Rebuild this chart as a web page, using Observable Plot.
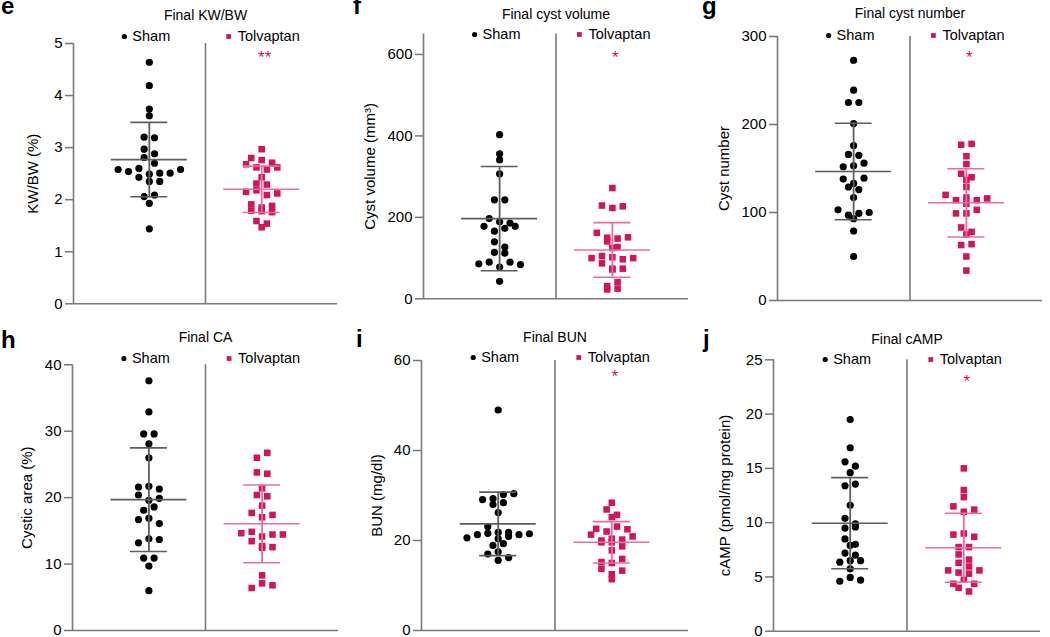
<!DOCTYPE html>
<html><head><meta charset="utf-8">
<script src="https://cdn.jsdelivr.net/npm/d3@7"></script>
<script src="https://cdn.jsdelivr.net/npm/@observablehq/plot@0.6"></script>
<style>
body{margin:0;background:#fff;}
#root{position:relative;width:1050px;height:637px;overflow:hidden;font-family:"Liberation Sans",Arial,Helvetica,sans-serif;background:#fff;}
.panel{position:absolute;}
.panel svg{overflow:visible;}
.letter{position:absolute;font-weight:bold;font-size:24px;line-height:12px;color:#000;}
.panel svg [aria-label^="y-axis"] line, .panel svg [aria-label^="y-axis"] path{stroke:#777;stroke-width:1.5;}
</style></head><body><div id="root"></div>
<script>
// ---------- data ----------
const groups = ["Sham", "Tolvaptan"];
const panelLetters = ["e", "f", "g", "h", "i", "j"];
const panelTitles = ["Final KW/BW", "Final cyst volume", "Final cyst number", "Final CA", "Final BUN", "Final cAMP"];
const yLabels = ["KW/BW (%)", "Cyst volume (mm³)", "Cyst number", "Cystic area (%)", "BUN (mg/dl)", "cAMP (pmol/mg protein)"];
const yMax = [5, 650, 300, 40, 60, 25];
const yTicks = [[0,1,2,3,4,5],[0,200,400,600],[0,100,200,300],[0,10,20,30,40],[0,20,40,60],[0,5,10,15,20,25]];
const significance = ["**", "*", "*", "", "*", "*"];

const kwbwSham = [4.64,4.19,3.74,3.61,3.20,3.19,2.97,2.88,2.81,2.70,2.58,2.54,2.43,2.60,2.49,2.51,2.51,2.58,2.35,2.35,2.06,2.09,1.93,1.44];
const kwbwTolvaptan = [2.97,2.80,2.76,2.71,2.68,2.62,2.58,2.62,2.43,2.31,2.29,2.15,2.18,2.09,2.12,1.91,1.79,1.85,1.88,1.78,1.76,1.59,1.54,1.47];
const kwbwMean = [2.77, 2.20];
const kwbwSD = [0.715, 0.445];

const volumeSham = [403,356,341,307,243,243,197,178,166,189,173,186,178,140,127,114,112,86,90,78,90,84,43];
const volumeTolvaptan = [272,229,223,227,162,141,150,148,151,125,127,100,105,102,87,74,97,100,74,72,23,31,41,25];
const volumeMean = [197, 120];
const volumeSD = [128, 67];

const numberSham = [273,239,225,225,201,176,166,165,152,153,156,138,133,139,129,126,117,103,97,99,100,93,79,50];
const numberTolvaptan = [177,178,164,155,144,140,137,129,120,114,117,110,114,116,99,99,103,83,78,75,63,64,50,34];
const numberMean = [146.6, 111];
const numberSD = [54.8, 38.8];

const caSham = [37.6,32.9,29.6,29.6,28.1,26.0,21.6,21.7,21.3,20.4,19.6,19.9,18.1,18.6,16.7,16.9,16.1,13.2,13.8,13.7,10.9,10.9,9.7,6.0];
const caTolvaptan = [26.0,26.75,23.8,23.6,21.4,20.4,20.2,18.8,17.7,17.05,17.4,14.65,14.85,14.15,14.45,14.45,13.45,12.45,12.7,12.55,8.3,6.4,7.1,6.8];
const caMean = [19.7, 16.06];
const caSD = [7.8, 5.85];

const bunSham = [49.0,29.1,29.3,28.0,30.2,28.4,30.4,26.2,23.1,21.8,20.6,21.3,21.6,20.4,20.9,21.3,21.8,21.5,18.9,19.3,17.0,15.6,17.5,16.2];
const bunTolvaptan = [28.4,26.9,25.2,25.7,22.6,21.3,20.0,22.0,20.4,19.6,23.1,20.2,22.5,20.9,19.6,17.8,18.7,15.2,13.7,15.0,12.5,11.4,15.9,13.3];
const bunMean = [23.7, 19.6];
const bunSD = [7.05, 4.6];

const campSham = [19.5,16.9,15.6,15.2,14.6,13.4,13.55,11.6,10.4,9.5,9.6,9.9,8.5,7.9,8.0,7.2,7.0,6.36,6.5,6.5,5.75,4.6,4.95,4.7];
const campTolvaptan = [15.0,13.0,12.35,11.5,11.0,11.2,8.9,9.0,8.7,7.75,7.75,7.07,6.6,6.3,5.96,5.6,5.4,5.3,5.6,4.37,4.74,4.37,4.0,3.66];
const campMean = [9.95, 7.69];
const campSD = [4.2, 3.18];

const seriesSham = [kwbwSham, volumeSham, numberSham, caSham, bunSham, campSham];
const seriesTolvaptan = [kwbwTolvaptan, volumeTolvaptan, numberTolvaptan, caTolvaptan, bunTolvaptan, campTolvaptan];
const seriesMean = [kwbwMean, volumeMean, numberMean, caMean, bunMean, campMean];
const seriesSD = [kwbwSD, volumeSD, numberSD, caSD, bunSD, campSD];

// ---------- layout (pixel placement of each panel) ----------
const W = 350;
const frames = [
  {left:0,   top:0,   h:320, axisX:73,  rightX:337,  yTop:43,    y0:303.3, labelX:33,  titleY:15,    legendY:36,  starY:53,  lx:1,   ly:0},
  {left:350, top:0,   h:320, axisX:423, rightX:688,  yTop:33.6,  y0:298.3, labelX:370, titleY:14,    legendY:34,  starY:53,  lx:353, ly:0},
  {left:700, top:0,   h:320, axisX:777, rightX:1042, yTop:36,    y0:300,   labelX:724, titleY:13.5,  legendY:35,  starY:53,  lx:702, ly:0},
  {left:0,   top:320, h:317, axisX:72,  rightX:338,  yTop:364.3, y0:630,   labelX:27,  titleY:336.7, legendY:358, starY:null,lx:1,   ly:334},
  {left:350, top:320, h:317, axisX:421, rightX:688,  yTop:360,   y0:630,   labelX:377, titleY:336.7, legendY:357, starY:372, lx:356, ly:332.5},
  {left:700, top:320, h:317, axisX:773, rightX:1040, yTop:359.3, y0:630.7, labelX:725, titleY:339,   legendY:359, starY:377, lx:703, ly:332.5}
];

const dotColor = ["#000000", "#d1155a"];
const lineColor = ["#5e5e5e", "#e5709b"];
const axisColor = "#7a7a7a";
const FONT = '"Liberation Sans", Arial, Helvetica, sans-serif';

// GraphPad-like scatter: points within a small vertical band are spread symmetrically in columns
function swarm(values, pxPerUnit, thresholdPx) {
  const idx = d3.range(values.length).sort((a, b) => values[b] - values[a] || a - b);
  const rows = [];
  let cur = null;
  for (const i of idx) {
    if (cur && (values[cur.start] - values[i]) * pxPerUnit < thresholdPx) cur.items.push(i);
    else { cur = {start: i, items: [i]}; rows.push(cur); }
  }
  const off = new Array(values.length);
  for (const r of rows) {
    r.items.sort((a, b) => a - b);
    r.items.forEach((i, k) => off[i] = k - (r.items.length - 1) / 2);
  }
  return off;
}

const root = document.getElementById("root");
const xd = [-0.675, 1.675];

frames.forEach((f, pi) => {
  const mt = f.yTop - f.top, mb = f.top + f.h - f.y0;
  const ml = f.axisX - f.left, mr = f.left + W - f.rightX;
  const xppu = (f.rightX - f.axisX) / (xd[1] - xd[0]);
  const yppu = (f.y0 - f.yTop) / yMax[pi];
  const step = 10.4 / xppu;
  const hw = 38 / xppu, cw = 18.5 / xppu;

  const marks = [];
  marks.push(Plot.ruleX([xd[0]], {stroke: axisColor, strokeWidth: 1.6}));
  marks.push(Plot.ruleX([0.5], {stroke: axisColor, strokeWidth: 1.6}));
  marks.push(Plot.ruleY([0], {stroke: axisColor, strokeWidth: 1.6}));

  [seriesSham[pi], seriesTolvaptan[pi]].forEach((vals, g) => {
    const off = swarm(vals, yppu, 6);
    const pts = vals.map((v, i) => ({x: g + off[i] * step, y: v}));
    const m = seriesMean[pi][g], s = seriesSD[pi][g];
    marks.push(Plot.dot(pts, {
      x: "x", y: "y",
      symbol: g === 0 ? "circle" : "square",
      r: g === 0 ? 3.6 : 3.7,
      fill: dotColor[g], stroke: "none"
    }));
    marks.push(Plot.ruleX([{x: g, y1: m - s, y2: m + s}], {x: "x", y1: "y1", y2: "y2", stroke: lineColor[g], strokeWidth: 1.8}));
    marks.push(Plot.ruleY([{y: m, x1: g - hw, x2: g + hw}], {y: "y", x1: "x1", x2: "x2", stroke: lineColor[g], strokeWidth: 1.6}));
    marks.push(Plot.ruleY([{y: m + s}, {y: m - s}], {y: "y", x1: () => g - cw, x2: () => g + cw, stroke: lineColor[g], strokeWidth: 1.6}));
  });

  const common = {frameAnchor: "top", lineAnchor: "middle", fill: "#000"};
  marks.push(Plot.text([panelTitles[pi]], {...common, x: () => 0.5, text: d => d, textAnchor: "middle", dy: f.titleY - f.yTop, fontSize: 14}));
  const ldy = f.legendY - f.yTop;
  marks.push(Plot.dot([0], {x: d => d, frameAnchor: "top", dy: ldy, dx: -25, r: 2.6, fill: dotColor[0], stroke: "none"}));
  marks.push(Plot.text([groups[0]], {...common, x: () => 0, text: d => d, dy: ldy, dx: -17, textAnchor: "start", fontSize: 14.5}));
  marks.push(Plot.dot([1], {x: d => d, frameAnchor: "top", dy: ldy, dx: -33, r: 2.7, symbol: "square", fill: dotColor[1], stroke: "none"}));
  marks.push(Plot.text([groups[1]], {...common, x: () => 1, text: d => d, dy: ldy, dx: -24, textAnchor: "start", fontSize: 14.5}));
  if (significance[pi]) {
    marks.push(Plot.text([significance[pi]], {...common, x: () => 1, text: d => d, textAnchor: "middle", dy: f.starY - f.yTop + 4, dx: 3, fontSize: 17, fill: dotColor[1]}));
  }
  marks.push(Plot.text([yLabels[pi]], {text: d => d, frameAnchor: "left", textAnchor: "middle", lineAnchor: "middle", rotate: -90, dx: f.labelX - f.axisX, fontSize: 15, fill: "#000"}));

  const chart = Plot.plot({
    width: W, height: f.h,
    marginTop: mt, marginBottom: mb, marginLeft: ml, marginRight: mr,
    style: {fontSize: "15px", fontFamily: FONT, color: "#000", background: "transparent"},
    x: {domain: xd, axis: null},
    y: {domain: [0, yMax[pi]], ticks: yTicks[pi], tickFormat: d => String(d), tickSize: 8, tickPadding: 3, label: null},
    marks
  });
  const div = document.createElement("div");
  div.className = "panel";
  div.style.left = f.left + "px";
  div.style.top = f.top + "px";
  div.appendChild(chart);
  root.appendChild(div);

  const letter = document.createElement("div");
  letter.className = "letter";
  letter.style.left = f.lx + "px";
  letter.style.top = f.ly + "px";
  letter.textContent = panelLetters[pi];
  root.appendChild(letter);
});
</script></body></html>
